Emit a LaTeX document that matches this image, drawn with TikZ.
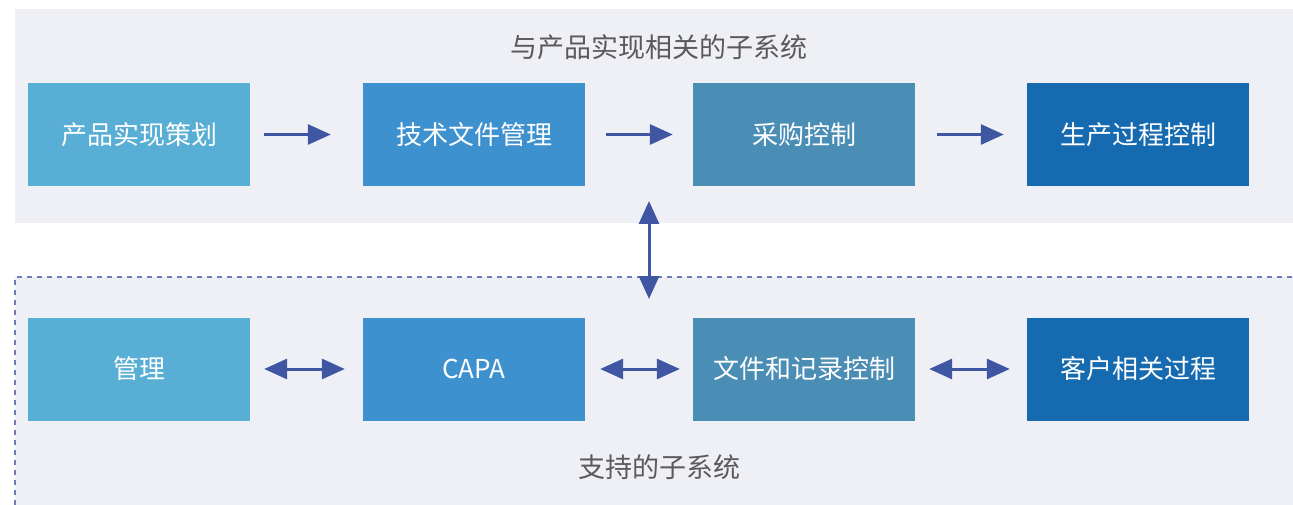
\documentclass[tikz,border=0pt]{standalone}
\usepackage{fontspec}
\setmainfont{Noto Sans CJK SC}
\usetikzlibrary{arrows.meta}

\definecolor{panelbg}{HTML}{EFF0F6}
\definecolor{linkblue}{HTML}{3F57A3}
\definecolor{dashblue}{HTML}{6C7DB8}
\definecolor{boxA}{HTML}{58AED4}
\definecolor{boxB}{HTML}{3E91CF}
\definecolor{boxC}{HTML}{4A8DB5}
\definecolor{boxD}{HTML}{166BB0}
\definecolor{labelgray}{HTML}{5A5A5A}

\tikzset{
	sysbox/.style={fill=#1,text=white,minimum width=222pt,minimum height=103pt,
		inner sep=0pt,font=\fontsize{26}{26}\selectfont},
	grouplabel/.style={text=labelgray,font=\fontsize{27}{27}\selectfont},
	onelink/.style={draw=linkblue,line width=3pt,-{Triangle[length=23pt,width=20pt]}},
	twolink/.style={draw=linkblue,line width=3pt,
		{Triangle[length=23pt,width=20pt]}-{Triangle[length=23pt,width=20pt]}},
}

\begin{document}
\begin{tikzpicture}[x=1pt,y=-1pt]

\useasboundingbox (0,0) rectangle (1293,505);

\def\rowA{134.5}
\def\rowB{369}

% panels
\fill[panelbg] (15,9) rectangle (1293,223);
\fill[panelbg] (15,277) rectangle (1293,505);
\draw[dashblue,line width=1.3pt,dash pattern=on 5pt off 5pt] (15,505)--(15,277)--(1293,277);

\node[grouplabel] (toplabel) at (659,47) {与产品实现相关的子系统};
\node[grouplabel] (botlabel) at (659,467) {支持的子系统};

% product realisation
\foreach \n/\x/\c/\t in {a1/139/boxA/产品实现策划,a2/474/boxB/技术文件管理,
	a3/804/boxC/采购控制,a4/1138/boxD/生产过程控制}{
	\node[sysbox=\c] (\n) at (\x,\rowA) {\t};
}

% support
\foreach \n/\x/\c/\t in {b1/139/boxA/管理,b2/474/boxB/CAPA,
	b3/804/boxC/文件和记录控制,b4/1138/boxD/客户相关过程}{
	\node[sysbox=\c] (\n) at (\x,\rowB) {\t};
}

\foreach \p/\q/\s/\e in {a1/a2/14/32,a2/a3/21/20,a3/a4/22/23}{
	\draw[onelink,shorten <=\s pt,shorten >=\e pt] (\p) -- (\q);
}
\foreach \p/\q/\s/\e in {b1/b2/14/18,b2/b3/15/13,b3/b4/14/17}{
	\draw[twolink,shorten <=\s pt,shorten >=\e pt] (\p) -- (\q);
}

\coordinate (up) at (649,201);
\coordinate (down) at (649,299);
\draw[twolink] (up) -- (down);

\end{tikzpicture}
\end{document}
